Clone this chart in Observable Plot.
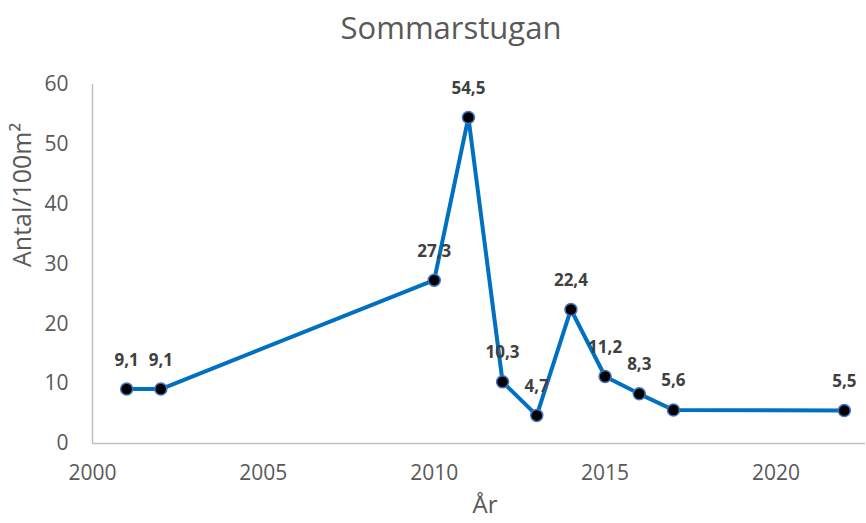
<!DOCTYPE html>
<html>
<head>
<meta charset="utf-8">
<script src="https://cdn.jsdelivr.net/npm/d3@7"></script>
<script src="https://cdn.jsdelivr.net/npm/@observablehq/plot@0.6"></script>
<style>
  html, body { margin: 0; padding: 0; background: #fff; }
  #wrap { width: 866px; height: 523px; position: relative; font-family: "Open Sans", sans-serif; }
  #title { position: absolute; left: 0; top: 0; width: 866px; height: 60px; box-sizing: border-box; padding-left: 36px;
           text-align: center; font-size: 31px; line-height: 54px; color: #595959; }
  #chart { position: absolute; left: 0; top: 60px; }
</style>
</head>
<body>
<div id="wrap">
  <div id="title">Sommarstugan</div>
  <div id="chart"></div>
</div>
<script>
const years = [2001, 2002, 2010, 2011, 2012, 2013, 2014, 2015, 2016, 2017, 2022];
const values = [9.1, 9.1, 27.3, 54.5, 10.3, 4.7, 22.4, 11.2, 8.3, 5.6, 5.5];
const xTicks = [2000, 2005, 2010, 2015, 2020];
const yTicks = [0, 10, 20, 30, 40, 50, 60];
const xTitle = "År";
const yTitle = "Antal/100m²";

const data = years.map((y, i) => ({year: y, value: values[i]}));
const fmt = v => String(v).replace(".", ",");

const chart = Plot.plot({
  width: 866,
  height: 463,
  marginLeft: 92,
  marginRight: 1,
  marginTop: 24,
  marginBottom: 80,
  style: {fontFamily: "Open Sans, sans-serif", background: "#fff"},
  x: {domain: [2000, 2022.62]},
  y: {domain: [0, 60]},
  marks: [
    Plot.ruleY([0], {stroke: "#bfbfbf", strokeWidth: 1.5}),
    Plot.ruleX([2000], {stroke: "#bfbfbf", strokeWidth: 1.5}),
    Plot.axisX({ticks: xTicks, tickSize: 0, tickPadding: 22, tickFormat: d => String(d), label: null,
      fontSize: 21, fill: "#595959"}),
    Plot.axisY({ticks: yTicks, tickSize: 0, tickPadding: 24, label: null, fontSize: 21, fill: "#595959"}),
    Plot.text([xTitle], {frameAnchor: "bottom", dy: 69, dx: 6, fontSize: 24, fill: "#595959"}),
    Plot.text([yTitle], {frameAnchor: "left", rotate: -90, dx: -70, dy: 3, fontSize: 25, fill: "#595959"}),
    Plot.line(data, {x: "year", y: "value", stroke: "#0070C0", strokeWidth: 4}),
    Plot.dot(data, {x: "year", y: "value", r: 6, fill: "#000", stroke: "#4472C4", strokeWidth: 1.5}),
    Plot.text(data, {x: "year", y: "value", text: d => fmt(d.value), dy: -29, fontSize: 17, fontWeight: "bold", fill: "#404040"})
  ]
});
document.getElementById("chart").appendChild(chart);
</script>
</body>
</html>
